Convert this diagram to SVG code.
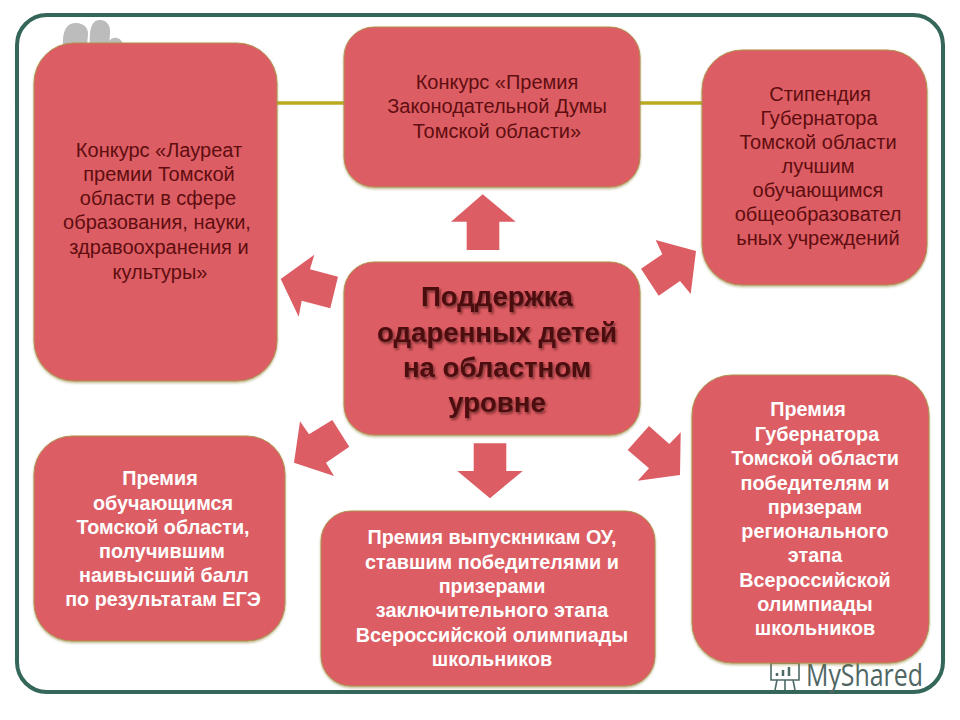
<svg xmlns="http://www.w3.org/2000/svg" width="960" height="720" viewBox="0 0 960 720">
<style>
.box{fill:#dc5d63;stroke:#b0924f;stroke-width:1;filter:url(#bs)}
.arrow{fill:#dc5d63}
.t{font-family:"Liberation Sans",Arial,sans-serif;font-size:20px;text-anchor:middle}
.b{font-size:19.8px}
.d{fill:#5f0d10}
.w{fill:#fff;font-weight:bold}
.h{font-family:"Liberation Sans",Arial,sans-serif;font-size:27.6px;font-weight:bold;text-anchor:middle;fill:#4b080c;filter:url(#ts)}
</style>
<defs>
<filter id="bs" x="-5%" y="-5%" width="110%" height="110%"><feDropShadow dx="0" dy="1.5" stdDeviation="1.2" flood-color="#8a7a30" flood-opacity=".55"/></filter>
<filter id="ts" x="-5%" y="-10%" width="110%" height="130%"><feDropShadow dx="1.5" dy="2" stdDeviation="1" flood-color="#3a0a0a" flood-opacity=".6"/></filter>
</defs>
<rect width="960" height="720" fill="#fff"/>
<rect id="frame" x="17" y="15" width="926" height="677" rx="30" fill="#fff" stroke="#35665a" stroke-width="4"/>
<g id="silhouette" fill="#bcbcbc">
<path d="M63 46C62 30 67 23 76 23C84 23 88 28 88 34L87 46Z"/><path d="M90 46C89 28 92 20 100 20C107 20 111 26 110 34L109 46Z"/><path d="M108 46C108 40 112 37 117 38C121 39 123 42 123 46Z"/>
</g>
<g id="connectors">
<path d="M277 103H344M640 103H702" stroke="#b9aa22" stroke-width="3.5" fill="none"/>
<polygon class="arrow" points="482.7,194.3 515.7,221.7 499.3,221.7 499.3,250 466.7,250 466.7,221.7 451,221.7"/>
<polygon class="arrow" points="490,498.3 522.7,471 506.3,471 506.3,443.3 473.7,443.3 473.7,471 457.3,471"/>
<polygon class="arrow" points="280.7,279 314.3,254.7 310,269.3 338,276.7 330.3,308.3 301.7,300.7 298.7,316.7"/>
<polygon class="arrow" points="696,251 655.7,240 662.3,254.3 641,268.7 658.7,295.7 680,281 690.7,294"/>
<polygon class="arrow" points="294,462.7 300,421.3 309,434.3 332.3,420 349.3,446.7 326,462.7 334,476"/>
<polygon class="arrow" points="680,475 680.7,432.3 669.3,444 649,426 627.7,450 649,468.3 637.7,480.7"/>
</g>
<g id="watermark">
<g fill="none" stroke="#4d6a68" stroke-width="1.6">
<path d="M771 663H799V680H771Z"/><path d="M770 660H800" stroke="#7a4a3a" stroke-width="2"/><path d="M777 680L775 690M793 680L795 690M785 680V690"/>
</g>
<path d="M777 676v-3M783 676v-6M789 676v-9" stroke="#4d6a68" stroke-width="2.5"/>
<text x="806" y="686" font-family="'Open Sans','Liberation Sans',sans-serif" font-size="31" fill="#4f6664" textLength="117" lengthAdjust="spacingAndGlyphs">MyShared</text>
</g>
<g id="node-laureate">
<rect class="box" x="34" y="43" width="243" height="338" rx="40"/>
<text class="t d"><tspan x="159" y="157">Конкурс «Лауреат</tspan><tspan x="159" y="181">премии Томской</tspan><tspan x="158" y="205">области в сфере</tspan><tspan x="157" y="229">образования, науки,</tspan><tspan x="159" y="254">здравоохранения и</tspan><tspan x="160" y="279">культуры»</tspan></text>
</g>
<g id="node-duma">
<rect class="box" x="344" y="27" width="296" height="160" rx="30"/>
<text class="t d"><tspan x="497" y="89">Конкурс «Премия</tspan><tspan x="497" y="113">Законодательной Думы</tspan><tspan x="497" y="138">Томской области»</tspan></text>
</g>
<g id="node-stipend">
<rect class="box" x="702" y="50" width="225" height="235" rx="40"/>
<text class="t d"><tspan x="820" y="101">Стипендия</tspan><tspan x="819" y="125">Губернатора</tspan><tspan x="818" y="149">Томской области</tspan><tspan x="818" y="173">лучшим</tspan><tspan x="818" y="197">обучающимся</tspan><tspan x="818" y="221">общеобразовател</tspan><tspan x="818" y="245">ьных учреждений</tspan></text>
</g>
<g id="node-center">
<rect class="box" x="344" y="262" width="296" height="173" rx="30"/>
<text class="h"><tspan x="497" y="306">Поддержка</tspan><tspan x="497" y="342">одаренных детей</tspan><tspan x="497" y="377">на областном</tspan><tspan x="497" y="412">уровне</tspan></text>
</g>
<g id="node-olympiad-region">
<rect class="box" x="692" y="375" width="237" height="288" rx="40"/>
<text class="t b w"><tspan x="808" y="416">Премия</tspan><tspan x="817" y="441">Губернатора</tspan><tspan x="815" y="465">Томской области</tspan><tspan x="815" y="490">победителям и</tspan><tspan x="815" y="514">призерам</tspan><tspan x="815" y="538">регионального</tspan><tspan x="815" y="562">этапа</tspan><tspan x="815" y="587">Всероссийской</tspan><tspan x="815" y="611">олимпиады</tspan><tspan x="815" y="635">школьников</tspan></text>
</g>
<g id="node-graduates">
<rect class="box" x="321" y="511" width="334" height="175" rx="30"/>
<text class="t b w"><tspan x="492" y="544">Премия выпускникам ОУ,</tspan><tspan x="492" y="569">ставшим победителями и</tspan><tspan x="492" y="593">призерами</tspan><tspan x="492" y="617">заключительного этапа</tspan><tspan x="492" y="642">Всероссийской олимпиады</tspan><tspan x="492" y="666">школьников</tspan></text>
</g>
<g id="node-ege">
<rect class="box" x="34" y="436" width="251" height="205" rx="38"/>
<text class="t b w"><tspan x="160" y="485">Премия</tspan><tspan x="163" y="510">обучающимся</tspan><tspan x="163" y="534">Томской области,</tspan><tspan x="162" y="558">получившим</tspan><tspan x="164" y="582">наивысший балл</tspan><tspan x="163" y="606">по результатам ЕГЭ</tspan></text>
</g>
</svg>
